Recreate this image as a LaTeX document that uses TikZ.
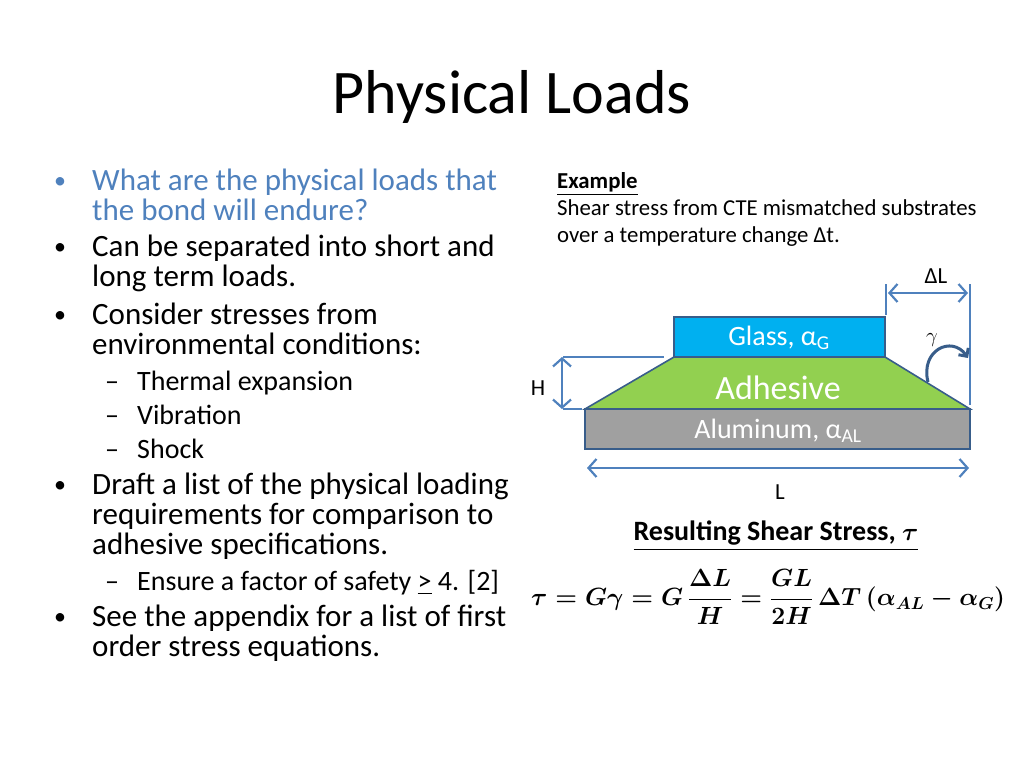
\documentclass[tikz,border=0pt]{standalone}
\usepackage{fontspec}
\setmainfont{Carlito}
\usepackage{amsmath}
\usetikzlibrary{arrows.meta}
\definecolor{accent}{HTML}{4F81BD}
\definecolor{edge}{HTML}{385D8A}
\definecolor{glass}{HTML}{00B0F0}
\definecolor{adhesive}{HTML}{92D050}
\definecolor{alu}{HTML}{A0A0A0}
\tikzset{
  line/.style={draw=accent, line width=2.2pt},
  dim/.style={line, {Straight Barb[length=8pt,width=18pt]}-{Straight Barb[length=8pt,width=18pt]}},
  layer/.style={draw=edge, line width=1.6pt},
  bl/.style={anchor=base west, inner sep=0pt, font=\fontsize{31}{33}\selectfont},
  sl/.style={anchor=base west, inner sep=0pt, font=\fontsize{28}{30}\selectfont},
  el/.style={anchor=base west, inner sep=0pt, font=\fontsize{22.8}{24}\selectfont},
  lab/.style={inner sep=0pt, font=\fontsize{28}{30}\selectfont},
}
\begin{document}
\begin{tikzpicture}[x=1pt, y=-1pt]
  \useasboundingbox (0,0) rectangle (1024,768);
  % title
  \node [font=\fontsize{62}{66}\selectfont] (title) at (512,97) {Physical Loads};
  % bullets
  \node [bl, text=accent] (b1) at (92,190) {What are the physical loads that};
  \node [bl, text=accent] (b1b) at (92,220) {the bond will endure?};
  \node [bl] (b2) at (92,256) {Can be separated into short and};
  \node [bl] (b2b) at (92,286) {long term loads.};
  \node [bl] (b3) at (92,324) {Consider stresses from};
  \node [bl] (b3b) at (92,354) {environmental conditions:};
  \node [sl] (s1) at (137,390) {Thermal expansion};
  \node [sl] (s2) at (137,424) {Vibration};
  \node [sl] (s3) at (137,458) {Shock};
  \node [bl] (b4) at (92,494) {Draft a list of the physical loading};
  \node [bl] (b4b) at (92,524) {requirements for comparison to};
  \node [bl] (b4c) at (92,554) {adhesive specifications.};
  \node [sl] (s4) at (137,590) {Ensure a factor of safety \underline{>} 4. [2]};
  \node [bl] (b5) at (92,626) {See the appendix for a list of first};
  \node [bl] (b5b) at (92,656) {order stress equations.};
  \foreach \y/\c in {190/accent, 256/black, 324/black, 494/black, 626/black}
    \node [bl, text=\c, font=\fontsize{24}{26}\selectfont] at (54,\y-2) {•};
  \foreach \y in {390, 424, 458, 590}
    \node [sl] at (105,\y) {–};
  % example text
  \node [el, font=\bfseries\fontsize{22.8}{24}\selectfont] (ex) at (557,188) {\underline{Example}};
  \node [el] (ex1) at (557,215) {Shear stress from CTE mismatched substrates};
  \node [el] (ex2) at (557,242) {over a temperature change Δt.};
  % layers
  \draw [layer, fill=alu] (585,409) rectangle (970,449);
  \draw [layer, fill=adhesive] (674,357) -- (885,357) -- (970,409) -- (585,409) -- cycle;
  \draw [layer, fill=glass] (674,317) rectangle (885,357);
  \node [lab, text=white] (glasslab) at (779,338) {Glass, α\textsubscript{G}};
  \node [lab, text=white, font=\fontsize{34}{36}\selectfont] (adhlab) at (778,388) {Adhesive};
  \node [lab, text=white] (alulab) at (778,431) {Aluminum, α\textsubscript{AL}};
  % dimensions
  \coordinate (hTop) at (562,357);
  \coordinate (hBot) at (562,409);
  \draw [line, line width=1.6pt] (563,357) -- (664,357);
  \draw [line, line width=1.6pt] (563,409) -- (582,409);
  \draw [dim] (hTop) -- (hBot);
  \node [lab, font=\fontsize{23}{25}\selectfont] (hlab) at (538,388) {H};
  \draw [line, line width=1.6pt] (886,284) -- (886,315);
  \draw [line, line width=1.6pt] (970,284) -- (970,405);
  \coordinate (dlA) at (888,293);
  \coordinate (dlB) at (968,293);
  \draw [dim] (dlA) -- (dlB);
  \node [lab, font=\fontsize{23}{25}\selectfont] (dllab) at (936,276) {ΔL};
  \coordinate (lA) at (587,468);
  \coordinate (lB) at (969,468);
  \draw [dim] (lA) -- (lB);
  \node [lab, font=\fontsize{23}{25}\selectfont] (llab) at (780,492) {L};
  % angle
  \draw [draw=edge, line width=3pt, -{Straight Barb[length=6pt,width=12pt]}]
    (928,382) .. controls (920,350) and (952,335) .. (968,358);
  \node [lab, font=\fontsize{22}{24}\selectfont] (gam) at (932,340) {$\gamma$};
  % result
  \node [font=\bfseries\fontsize{28}{30}\selectfont] (res) at (776,536) {\underline{Resulting Shear Stress, $\boldsymbol{\tau}$}};
  \node [font=\fontsize{23.4}{25}\selectfont] (eq) at (768,597)
    {$\boldsymbol{\tau = G\gamma = G\,\dfrac{\Delta L}{H} = \dfrac{GL}{2H}\,\Delta T\,(\alpha_{AL}-\alpha_{G})}$};
\end{tikzpicture}
\end{document}
